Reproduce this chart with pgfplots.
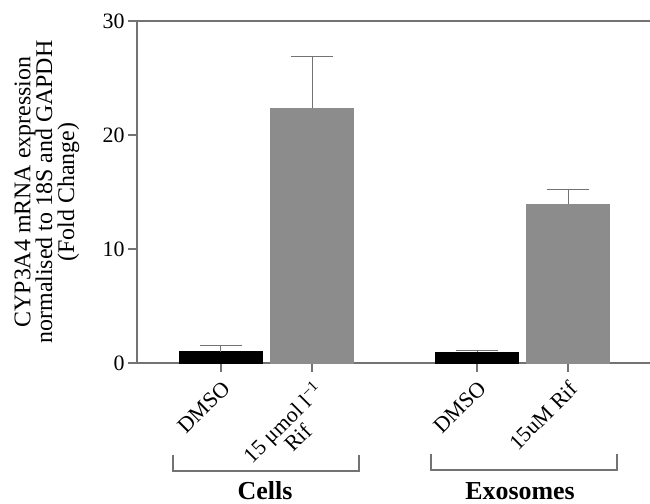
\documentclass[border=0pt]{standalone}
\usepackage{pgfplots}
\pgfplotsset{compat=1.18}
\usepackage{fontspec}
\setmainfont{Liberation Serif}
\definecolor{barg}{RGB}{140,140,140}
\definecolor{axg}{RGB}{115,115,115}
\begin{document}
\begin{tikzpicture}
\path[use as bounding box] (0,0) rectangle (650bp,504bp);
\begin{axis}[
  at={(137bp,141bp)}, anchor=south west,
  scale only axis, width=515bp, height=342bp,
  xmin=-0.923, xmax=4.736, ymin=0, ymax=30,
  ytick={0,10,20,30},
  xtick={0,1,2.813,3.813},
  xticklabels={DMSO, {15 μmol l\textsuperscript{−1}\\Rif}, DMSO, 15uM Rif},
  xticklabel style={rotate=45, anchor=north east, align=center, inner sep=1bp, font=\fontsize{22}{21}\selectfont},
  xticklabel shift=6bp,
  yticklabel style={font=\fontsize{22}{22}\selectfont},
  /pgf/number format/assume math mode=true,
  tick align=outside, major tick length=9bp,
  xtick pos=bottom, ytick pos=left,
  axis line style={axg, line width=1.1bp},
  tick style={axg, line width=1.1bp},
  ylabel={CYP3A4 mRNA expression\\normalised to 18S and GAPDH\\(Fold Change)},
  ylabel style={align=center, font=\fontsize{24}{22}\selectfont, at={(axis description cs:-0.175,0.5)}, anchor=center},
  clip=false,
]
\addplot[ybar, bar width=0.912, bar shift=0, fill=black, draw=black,
  error bars/.cd, y dir=plus, y explicit, error mark=|,
  error bar style={axg, line width=1bp},
  error mark options={mark size=21bp, line width=1bp, axg}]
  coordinates {(0,1.0) +- (0,0.55) (2.813,0.95) +- (0,0.12)};
\addplot[ybar, bar width=0.912, bar shift=0, fill=barg, draw=barg,
  error bars/.cd, y dir=plus, y explicit, error mark=|,
  error bar style={axg, line width=1bp},
  error mark options={mark size=21bp, line width=1bp, axg}]
  coordinates {(1,22.34) +- (0,4.53) (3.813,13.92) +- (0,1.26)};
\end{axis}
\draw[axg, line width=1.1bp] (173bp,49bp) -- (173bp,33bp) -- (359bp,33bp) -- (359bp,49bp);
\draw[axg, line width=1.1bp] (431bp,50bp) -- (431bp,34bp) -- (617bp,34bp) -- (617bp,50bp);
\node[anchor=base, font=\bfseries\fontsize{26}{26}\selectfont] at (265bp,5bp) {Cells};
\node[anchor=base, font=\bfseries\fontsize{26}{26}\selectfont] at (520bp,5bp) {Exosomes};
\end{tikzpicture}
\end{document}
